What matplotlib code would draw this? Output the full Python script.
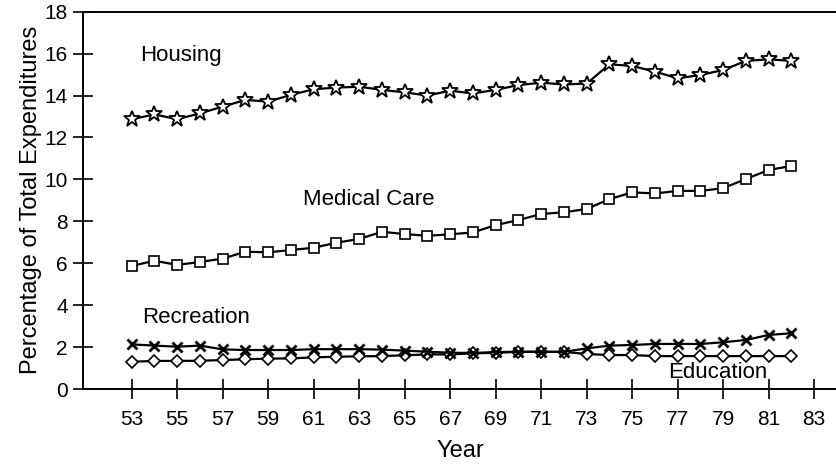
import matplotlib
matplotlib.use("Agg")
import matplotlib.pyplot as plt

plt.rcParams['font.family'] = ['Liberation Sans', 'DejaVu Sans']

# years 1953-1982 (two-digit labels)
years = list(range(53, 83))

housing = [12.87, 13.10, 12.87, 13.15, 13.47, 13.79, 13.71, 14.03, 14.30, 14.38,
           14.42, 14.27, 14.15, 14.00, 14.23, 14.10, 14.27, 14.50, 14.61, 14.53,
           14.57, 15.49, 15.41, 15.14, 14.82, 14.98, 15.22, 15.65, 15.73, 15.65]
medical = [5.87, 6.12, 5.92, 6.06, 6.22, 6.55, 6.52, 6.63, 6.74, 6.98,
           7.16, 7.50, 7.39, 7.31, 7.38, 7.47, 7.82, 8.06, 8.35, 8.43,
           8.59, 9.06, 9.38, 9.33, 9.45, 9.45, 9.58, 10.02, 10.45, 10.64]
recreation = [2.13, 2.07, 2.02, 2.07, 1.89, 1.86, 1.86, 1.86, 1.90, 1.90,
              1.90, 1.88, 1.83, 1.78, 1.73, 1.72, 1.76, 1.78, 1.77, 1.77,
              1.94, 2.07, 2.10, 2.15, 2.15, 2.15, 2.23, 2.34, 2.58, 2.66]
education = [1.30, 1.34, 1.34, 1.35, 1.38, 1.42, 1.45, 1.46, 1.51, 1.54,
             1.56, 1.57, 1.61, 1.65, 1.65, 1.70, 1.73, 1.77, 1.78, 1.77,
             1.67, 1.62, 1.62, 1.57, 1.57, 1.57, 1.57, 1.57, 1.57, 1.57]

xticks = list(range(53, 85, 2))
yticks = list(range(0, 19, 2))

fig = plt.figure(figsize=(8.37, 4.67), dpi=100)
ax = fig.add_axes([0.0992, 0.167, 0.9008, 0.808])

line_kw = dict(color='black', linewidth=1.6, markerfacecolor='white',
               markeredgecolor='black')
ax.plot(years, housing, marker='*', markersize=12, markeredgewidth=1.3, **line_kw)
ax.plot(years, medical, marker='s', markersize=7.5, markeredgewidth=1.2, **line_kw)
ax.plot(years, education, marker='D', markersize=6.5, markeredgewidth=1.2, **line_kw)
ax.plot(years, recreation, color='black', linewidth=1.6, marker='x',
        markersize=7.5, markeredgewidth=2.0)

ax.text(55.16, 15.9, 'Housing', fontsize=16, ha='center', va='center')
ax.text(63.44, 9.06, 'Medical Care', fontsize=16, ha='center', va='center')
ax.text(55.85, 3.43, 'Recreation', fontsize=16, ha='center', va='center')
ax.text(78.74, 0.81, 'Education', fontsize=16, ha='center', va='center')

ax.set_xlim(50.86, 84.0)
ax.set_ylim(0, 18)
ax.set_xticks(xticks)
ax.set_yticks(yticks)
ax.tick_params(axis='x', direction='inout', length=14, width=1.2, pad=8, labelsize=15)
ax.tick_params(axis='y', direction='inout', length=14, width=1.2, pad=4, labelsize=15)

ax.spines['right'].set_visible(False)
for s in ['left', 'bottom', 'top']:
    ax.spines[s].set_linewidth(1.4)

ax.set_xlabel('Year', fontsize=17, labelpad=8)
ax.set_ylabel('Percentage of Total Expenditures', fontsize=17, labelpad=2)

fig.savefig('out.png', dpi=100)
